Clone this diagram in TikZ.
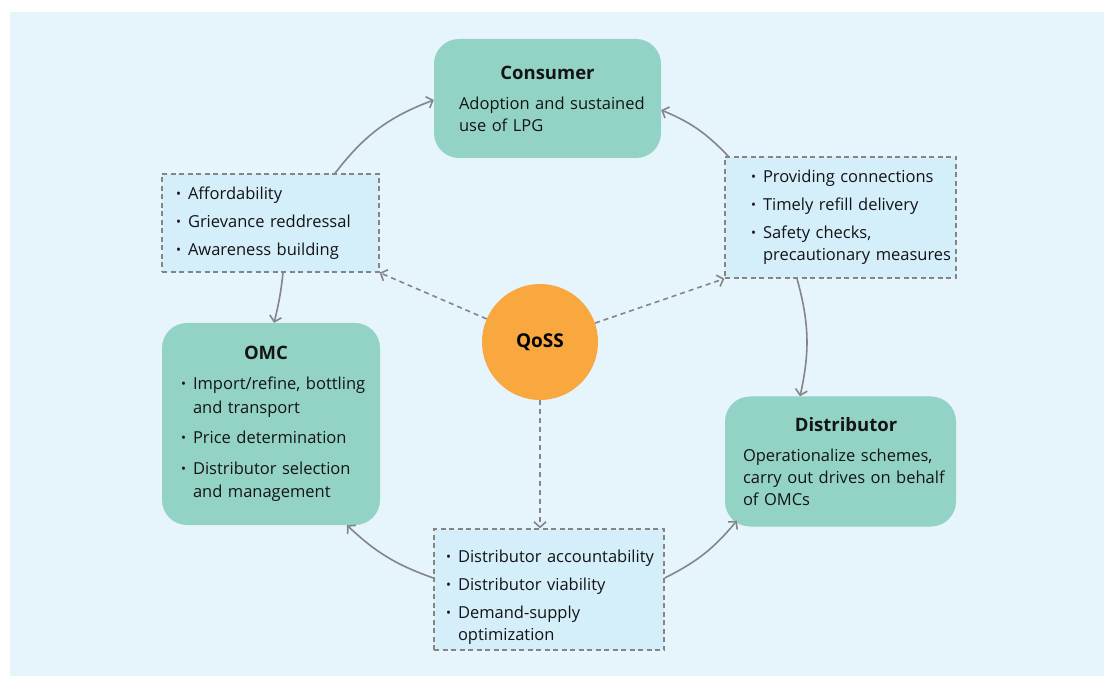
\documentclass[tikz,border=0pt]{standalone}
\usepackage{fontspec}
\setmainfont{Open Sans}
\usetikzlibrary{arrows.meta}
\setlength{\parindent}{0pt}

\definecolor{panel}{HTML}{E6F4FC}
\definecolor{mintfill}{HTML}{93D3C6}
\definecolor{skyfill}{HTML}{D4EEFA}
\definecolor{orangefill}{HTML}{F9A840}
\definecolor{linegrey}{HTML}{858585}
\definecolor{inkblack}{HTML}{141414}

% list helpers
\newcommand\bdot{\raisebox{0.12ex}{\scalebox{0.8}{•}}}
\newcommand\bul[1]{\mbox{\makebox[12pt][l]{\bdot}#1}}
\newcommand\cont[1]{\mbox{\hspace*{12pt}#1}}
\newcommand\ttl[2][0pt]{\makebox[\hsize]{\hspace*{#1}\fontsize{18.5}{22}\selectfont\bfseries #2}}

\tikzset{
  mainbox/.style={rectangle, rounded corners=25pt, fill=mintfill, draw=none,
    inner xsep=0pt, inner ysep=0pt, align=left, text=inkblack,
    font=\fontsize{16.5}{22}\selectfont},
  listbox/.style={rectangle, fill=skyfill, draw=linegrey, line width=1.3pt,
    dash pattern=on 5pt off 3.5pt, inner xsep=0pt, inner ysep=0pt,
    align=left, text=inkblack, font=\fontsize{16.5}{22}\selectfont},
  hub/.style={circle, fill=orangefill, draw=none, minimum size=116pt,
    inner sep=0pt, text=black, font=\fontsize{19}{22}\selectfont\bfseries},
  conn/.style={draw=linegrey, line width=1.6pt,
    -{Straight Barb[length=5.5pt,width=12pt]}},
  dconn/.style={conn, dash pattern=on 5pt off 4pt}
}

\begin{document}
\begin{tikzpicture}[x=1pt,y=1pt]
  \useasboundingbox (0,0) rectangle (1104,-676);
  \fill[white] (0,0) rectangle (1104,-676);
  \fill[panel] (10,-12) rectangle (1104,-676);

  % actors
  \node[mainbox, minimum width=227pt, minimum height=119pt, text width=177pt]
    (cons) at (547.5,-98.5)
    {\ttl{Consumer}\\[8pt]
     \mbox{Adoption and sustained}\\
     \mbox{use of LPG}};

  \node[mainbox, minimum width=218pt, minimum height=202pt, text width=180pt,
        font=\fontsize{16.5}{23.5}\selectfont]
    (omc) at (271,-424)
    {\ttl[-10pt]{OMC}\\[6.5pt]
     \bul{Import/refine, bottling}\\
     \cont{and transport}\\[7pt]
     \bul{Price determination}\\[7pt]
     \bul{Distributor selection}\\
     \cont{and management}};

  \node[mainbox, minimum width=231pt, minimum height=130pt, text width=195pt]
    (dist) at (840.5,-461.5)
    {\ttl[11pt]{Distributor}\\[8pt]
     \mbox{Operationalize schemes,}\\
     \mbox{carry out drives on behalf}\\
     \mbox{of OMCs}};

  % responsibilities
  \node[listbox, minimum width=217pt, minimum height=98pt, text width=189pt]
    (b1) at (270.5,-223)
    {\bul{Affordability}\\[6pt]
     \bul{Grievance reddressal}\\[6pt]
     \bul{Awareness building}};

  \node[listbox, minimum width=231pt, minimum height=121pt, text width=179pt]
    (b2) at (840.5,-217.5)
    {\bul{Providing connections}\\[6pt]
     \bul{Timely refill delivery}\\[6pt]
     \bul{Safety checks,}\\
     \cont{precautionary measures}};

  \node[listbox, minimum width=230pt, minimum height=121pt, text width=206pt]
    (b3) at (549,-589.5)
    {\rule{0pt}{28pt}\bul{Distributor accountability}\\[6pt]
     \bul{Distributor viability}\\[6pt]
     \bul{Demand-supply}\\
     \cont{optimization}};

  \node[hub] (q) at (540,-342) {QoSS};

  % cycle connectors
  \draw[conn] ([xshift=64.5pt]b1.north) to[bend left=16] ([yshift=-1.5pt]cons.west);
  \draw[conn] ([xshift=4pt]b2.north west) to[bend right=12] ([yshift=-11.5pt]cons.east);
  \draw[conn] ([xshift=12.5pt]b1.south) to[bend left=4] ([xshift=3pt]omc.north);
  \draw[conn] ([xshift=-43.5pt]b2.south) to[bend left=14] ([xshift=-40.5pt]dist.north);
  \draw[conn] ([yshift=11.5pt]b3.west) to[bend left=12] ([xshift=76pt]omc.south);
  \draw[conn] ([yshift=11.5pt]b3.east) to[bend right=12] ([xshift=12pt,yshift=6pt]dist.south west);

  % hub connectors
  \draw[dconn] (q) -- (b1.south east);
  \draw[dconn] (q) -- (b2.south west);
  \draw[dconn] (q.south) -- (q.south |- b3.north);
\end{tikzpicture}
\end{document}
